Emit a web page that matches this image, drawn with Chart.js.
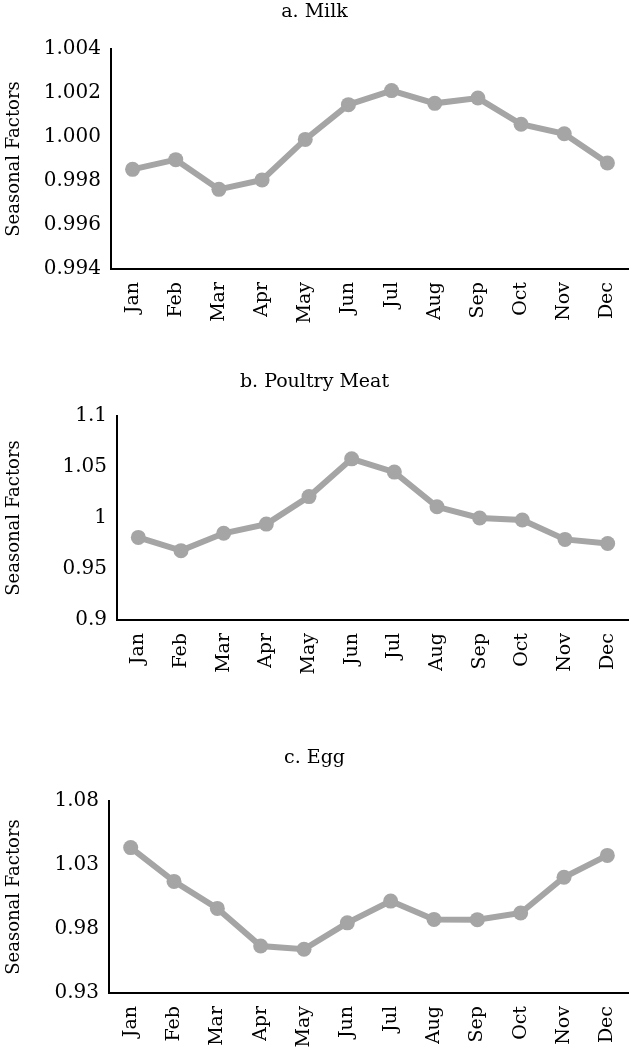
<!DOCTYPE html>
<html>
<head>
<meta charset="utf-8">
<script src="https://cdn.jsdelivr.net/npm/chart.js@4.4.1/dist/chart.umd.min.js"></script>
<style>
  html, body { margin: 0; padding: 0; background: #fff; }
  body { width: 629px; height: 1061px; position: relative; overflow: hidden; }
  canvas { position: absolute; left: 0; }
</style>
</head>
<body>
<canvas id="chMilk" width="629" height="330" style="top:0px"></canvas>
<canvas id="chPoultry" width="629" height="330" style="top:370px"></canvas>
<canvas id="chEgg" width="629" height="316" style="top:745px"></canvas>
<script>
// Seasonal factors by month.
const months = ['Jan', 'Feb', 'Mar', 'Apr', 'May', 'Jun', 'Jul', 'Aug', 'Sep', 'Oct', 'Nov', 'Dec'];

const milk = [0.99853, 0.99897, 0.99762, 0.99805, 0.99989, 1.00147, 1.00211, 1.00153, 1.00177, 1.00058, 1.00015, 0.99882];
const poultry = [0.981, 0.968, 0.985, 0.994, 1.021, 1.058, 1.045, 1.011, 1.000, 0.998, 0.979, 0.975];
const egg = [1.0436, 1.0172, 0.9961, 0.9667, 0.9642, 0.9848, 1.0018, 0.9875, 0.9873, 0.9925, 1.0204, 1.0375];

const milkTicks = [0.994, 0.996, 0.998, 1.000, 1.002, 1.004];
const milkTickLabels = ['0.994', '0.996', '0.998', '1.000', '1.002', '1.004'];
const poultryTicks = [0.9, 0.95, 1, 1.05, 1.1];
const poultryTickLabels = ['0.9', '0.95', '1', '1.05', '1.1'];
const eggTicks = [0.93, 0.98, 1.03, 1.08];
const eggTickLabels = ['0.93', '0.98', '1.03', '1.08'];

const FONT = "'DejaVu Serif', 'Liberation Serif', serif";
const INK = '#000', LINE = '#A5A5A5';
const TITLE_SIZE = 19;

function panel(id, title, values, ticks, tickLabels, box) {
  const ctx = document.getElementById(id);
  return new Chart(ctx, {
    type: 'line',
    data: {
      labels: months,
      datasets: [{
        data: values,
        borderColor: LINE,
        backgroundColor: LINE,
        borderWidth: 6,
        pointRadius: 7.5,
        pointHoverRadius: 7.5,
        pointBorderWidth: 0,
        tension: 0,
        clip: false,
      }],
    },
    options: {
      responsive: false,
      animation: false,
      devicePixelRatio: 1,
      layout: { padding: 0, autoPadding: false },
      plugins: {
        legend: { display: false },
        tooltip: { enabled: false },
        title: {
          display: true,
          text: title,
          color: INK,
          font: { family: FONT, size: TITLE_SIZE, weight: 'normal', lineHeight: 1.2 },
          padding: { top: box.titleTop, bottom: box.areaTop - box.titleTop - TITLE_SIZE * 1.2 },
        },
      },
      scales: {
        x: {
          offset: true,
          grid: { display: false, drawTicks: false },
          border: { display: true, color: INK, width: 2 },
          ticks: {
            color: INK,
            font: { family: FONT, size: 19 },
            maxRotation: 90,
            minRotation: 90,
            padding: 13,
            autoSkip: false,
          },
          afterFit: (s) => {
            s.height = box.xHeight;
            s.paddingLeft = 0;
            s.paddingRight = 0;
          },
        },
        y: {
          min: ticks[0],
          max: ticks[ticks.length - 1],
          grid: { display: false, drawTicks: false },
          border: { display: true, color: INK, width: 2 },
          ticks: {
            color: INK,
            font: { family: FONT, size: 20 },
            padding: 10,
            callback: (v) => {
              const i = ticks.findIndex((t) => Math.abs(t - v) < 1e-9);
              return i >= 0 ? tickLabels[i] : '';
            },
          },
          afterBuildTicks: (s) => { s.ticks = ticks.map((v) => ({ value: v })); },
          title: {
            display: true,
            text: 'Seasonal Factors',
            color: INK,
            font: { family: FONT, size: 18, lineHeight: 1.2 },
            padding: { top: 4, bottom: 0 },
          },
          afterFit: (s) => { s.width = box.left; },
        },
      },
    },
  });
}

panel('chMilk', 'a. Milk', milk, milkTicks, milkTickLabels,
  { titleTop: 1, areaTop: 49, left: 111, xHeight: 61 });
panel('chPoultry', 'b. Poultry Meat', poultry, poultryTicks, poultryTickLabels,
  { titleTop: 1, areaTop: 46, left: 117, xHeight: 80 });
panel('chEgg', 'c. Egg', egg, eggTicks, eggTickLabels,
  { titleTop: 2, areaTop: 56, left: 109, xHeight: 68 });
</script>
</body>
</html>
